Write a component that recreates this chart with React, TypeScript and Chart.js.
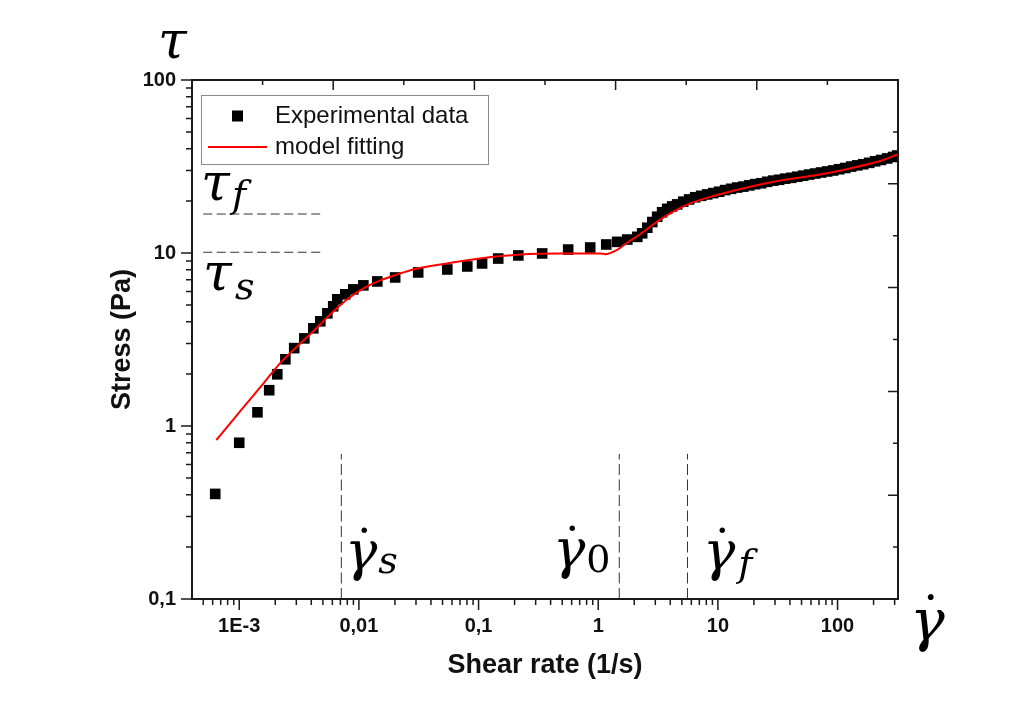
import { useEffect, useRef } from 'react';
import { Chart, registerables } from 'chart.js';

Chart.register(...registerables);

// ---------- data ----------
const expShearRate = [
  6.3e-4, 1.0e-3, 1.42e-3, 1.78e-3, 2.08e-3, 2.43e-3, 2.88e-3, 3.5e-3, 4.16e-3, 4.76e-3,
  5.45e-3, 6.1e-3, 6.6e-3, 7.7e-3, 8.98e-3, 0.0109, 0.01425, 0.0201, 0.0313, 0.0548,
  0.0805, 0.107, 0.146, 0.215, 0.34, 0.561, 0.857, 1.167, 1.44, 1.75,
  2.12, 2.33, 2.57, 2.83, 3.11, 3.42, 3.77, 4.15, 4.57, 5.13,
  5.75, 6.46, 7.25, 8.14, 9.14, 10.25, 11.5, 12.9, 14.5, 16.3,
  18.3, 20.5, 23.0, 25.8, 29.0, 32.5, 36.5, 41.0, 46.0, 51.6,
  57.9, 65.0, 72.9, 81.9, 91.9, 103, 116, 130, 146, 164,
  184, 206, 231, 260, 291, 315,
];
const expStress = [
  0.405, 0.8, 1.2, 1.61, 1.99, 2.43, 2.82, 3.21, 3.67, 4.03,
  4.48, 4.92, 5.4, 5.77, 6.16, 6.5, 6.85, 7.22, 7.72, 8.03,
  8.36, 8.7, 9.29, 9.68, 9.94, 10.47, 10.76, 11.2, 11.6, 11.96,
  12.4, 13.0, 14.0, 15.1, 16.2, 17.2, 18.0, 18.6, 19.1, 19.8,
  20.4, 21.0, 21.4, 21.8, 22.2, 22.6, 23.1, 23.5, 23.9, 24.2,
  24.6, 25.0, 25.3, 25.8, 26.2, 26.5, 26.9, 27.2, 27.6, 28.0,
  28.4, 28.8, 29.2, 29.6, 30.0, 30.5, 31.0, 31.6, 32.1, 32.6,
  33.2, 33.9, 34.5, 35.2, 35.9, 36.6,
];
const fitShearRate = [
  6.44e-4, 8.43e-4, 1.17e-3, 1.59e-3, 2.2e-3, 3.06e-3, 4.16e-3, 5.77e-3, 8.0e-3, 0.0109,
  0.0151, 0.0209, 0.0285, 0.0548, 0.103, 0.223, 0.482, 1.04, 1.14, 1.44,
  1.75, 2.24, 3.11, 4.23, 5.87, 9.87, 18.6, 35.1, 67.5, 127.4,
  240, 315,
];
const fitStress = [
  0.83, 1.04, 1.365, 1.76, 2.31, 2.89, 3.53, 4.42, 5.4, 6.24,
  6.94, 7.52, 8.03, 8.7, 9.3, 9.8, 9.94, 9.94, 9.84, 10.43,
  11.5, 12.83, 15.19, 17.35, 19.36, 21.65, 24.17, 26.42, 28.23, 30.82,
  34.45, 37.1,
];

const xTickValues = [1e-3, 1e-2, 1e-1, 1, 10, 100];
const xTickLabels = ['1E-3', '0,01', '0,1', '1', '10', '100'];
const yTickValues = [0.1, 1, 10, 100];
const yTickLabels = ['0,1', '1', '10', '100'];
const xDecades = [1e-4, 1e-3, 1e-2, 1e-1, 1, 10, 100];
const yDecades = [0.1, 1, 10];
const minorMantissas = [2, 3, 4, 5, 6, 7, 8, 9];
const xMin = 4.03e-4;
const xMax = 320;
const yMin = 0.1;
const yMax = 100;

// critical shear rates (γ̇s, γ̇0, γ̇f) and critical stresses (τf, τs)
const criticalRates = [0.00713, 1.5, 5.57];
const criticalRateTop = 0.69;
const criticalStresses = [16.8, 10.1];
const stressGuideX = [5e-4, 5e-3];

const seriesNames = ['Experimental data', 'model fitting'];

// ---------- helpers ----------
const xMinorTicks: number[] = [];
xDecades.forEach((d) => minorMantissas.forEach((m) => {
  const v = d * m;
  if (v > xMin && v < xMax) xMinorTicks.push(v);
}));
const yMinorTicks: number[] = [];
yDecades.forEach((d) => minorMantissas.forEach((m) => {
  const v = d * m;
  if (v > yMin && v < yMax) yMinorTicks.push(v);
}));

const SANS = '"Liberation Sans", Arial, sans-serif';
const SERIF = '"DejaVu Serif", "Liberation Serif", serif';

const framePlugin = {
  id: 'frameTicks',
  afterDatasetsDraw(chart: any) {
    const { ctx, chartArea: a, scales } = chart;
    const x = scales.x;
    const y = scales.y;
    ctx.save();
    ctx.strokeStyle = '#1a1a1a';
    ctx.lineWidth = 2;
    ctx.strokeRect(a.left, a.top, a.right - a.left, a.bottom - a.top);
    ctx.lineWidth = 1.5;
    ctx.beginPath();
    xTickValues.forEach((v) => {
      const p = x.getPixelForValue(v);
      ctx.moveTo(p, a.bottom); ctx.lineTo(p, a.bottom + 11);
    });
    xMinorTicks.forEach((v) => {
      const p = x.getPixelForValue(v);
      ctx.moveTo(p, a.bottom); ctx.lineTo(p, a.bottom + 6);
    });
    yTickValues.forEach((v) => {
      const p = y.getPixelForValue(v);
      ctx.moveTo(a.left, p); ctx.lineTo(a.left - 11, p);
    });
    yMinorTicks.forEach((v) => {
      const p = y.getPixelForValue(v);
      ctx.moveTo(a.left, p); ctx.lineTo(a.left - 6, p);
    });
    const w = a.right - a.left;
    const h = a.bottom - a.top;
    for (let i = 1; i < 10; i++) {
      const len = i % 2 === 0 ? 10 : 5;
      const px = a.left + (i * w) / 10;
      ctx.moveTo(px, a.top); ctx.lineTo(px, a.top + len);
      const py = a.top + (i * h) / 10;
      ctx.moveTo(a.right, py); ctx.lineTo(a.right - len, py);
    }
    ctx.stroke();
    ctx.restore();
  },
};

const legendPlugin = {
  id: 'boxLegend',
  afterDraw(chart: any) {
    const { ctx } = chart;
    ctx.save();
    ctx.fillStyle = '#ffffff';
    ctx.fillRect(201, 95, 287, 69);
    ctx.strokeStyle = '#8a8a8a';
    ctx.lineWidth = 1;
    ctx.strokeRect(201.5, 95.5, 287, 69);
    ctx.fillStyle = '#000';
    ctx.fillRect(232, 110.5, 11, 11);
    ctx.strokeStyle = '#ff0000';
    ctx.lineWidth = 2;
    ctx.beginPath();
    ctx.moveTo(208, 147); ctx.lineTo(267, 147);
    ctx.stroke();
    ctx.fillStyle = '#111';
    ctx.font = `24px ${SANS}`;
    ctx.textBaseline = 'middle';
    ctx.textAlign = 'left';
    ctx.fillText(seriesNames[0], 275, 116);
    ctx.fillText(seriesNames[1], 275, 147);
    ctx.restore();
  },
};

function gammaDot(ctx: any, x: number, baseline: number, size: number) {
  ctx.font = `italic ${size}px ${SERIF}`;
  ctx.textAlign = 'left';
  ctx.fillText('γ', x, baseline);
  const w = ctx.measureText('γ').width;
  ctx.font = `${Math.round(size * 0.9)}px ${SERIF}`;
  ctx.textAlign = 'center';
  ctx.fillText('˙', x + w * 0.6, baseline - size * 0.1);
  ctx.textAlign = 'left';
  return w;
}

const symbolPlugin = {
  id: 'symbols',
  afterDraw(chart: any) {
    const { ctx } = chart;
    ctx.save();
    ctx.fillStyle = '#000';
    ctx.textBaseline = 'alphabetic';
    const big = 52;
    const sub = 38;
    // τ (top, y axis symbol)
    ctx.font = `italic ${big}px ${SERIF}`;
    ctx.fillText('τ', 158, 58);
    // τf
    ctx.fillText('τ', 201, 200);
    ctx.font = `italic ${sub}px ${SERIF}`;
    ctx.fillText('f', 232, 207);
    // τs
    ctx.font = `italic ${big}px ${SERIF}`;
    ctx.fillText('τ', 203, 290);
    ctx.font = `italic ${sub}px ${SERIF}`;
    ctx.fillText('s', 235, 299);
    // γ̇s
    const g = 54;
    let w = gammaDot(ctx, 345, 570, g);
    ctx.font = `italic ${sub}px ${SERIF}`;
    ctx.fillText('s', 345 + w + 1, 573);
    // γ̇0
    w = gammaDot(ctx, 553, 568, g);
    ctx.font = `${sub}px ${SERIF}`;
    ctx.fillText('0', 553 + w + 1, 572);
    // γ̇f
    w = gammaDot(ctx, 703, 570, g);
    ctx.font = `italic ${sub}px ${SERIF}`;
    ctx.fillText('f', 703 + w + 3, 576);
    // γ̇ (x axis symbol)
    gammaDot(ctx, 910, 640, 58);
    ctx.restore();
  },
};

export default function App() {
  const ref = useRef<HTMLCanvasElement>(null);
  useEffect(() => {
    const canvas = ref.current;
    if (!canvas) return;
    const expPoints = expShearRate.map((x, i) => ({ x, y: expStress[i] }));
    const fitPoints = fitShearRate.map((x, i) => ({ x, y: fitStress[i] }));
    const guide = (pts: { x: number; y: number }[], dash: number[]) => ({
      type: 'line' as const,
      data: pts,
      showLine: true,
      pointRadius: 0,
      borderColor: '#333333',
      borderWidth: 1,
      borderDash: dash,
      fill: false,
      order: 3,
    });
    const guides = [
      ...criticalStresses.map((s) => guide(stressGuideX.map((x) => ({ x, y: s })), [9, 4.5])),
      ...criticalRates.map((r) => guide([{ x: r, y: yMin }, { x: r, y: criticalRateTop }], [11, 4.5])),
    ];
    const chart = new Chart(canvas, {
      type: 'scatter',
      data: {
        datasets: [
          {
            type: 'line',
            label: seriesNames[1],
            data: fitPoints,
            showLine: true,
            borderColor: '#ff0000',
            borderWidth: 2,
            pointRadius: 0,
            cubicInterpolationMode: 'monotone',
            fill: false,
            order: 0,
          },
          {
            label: seriesNames[0],
            data: expPoints,
            pointStyle: 'rect',
            pointRadius: 7.5,
            pointBorderWidth: 0,
            backgroundColor: '#000',
            borderColor: '#000',
            order: 1,
          },
          ...guides,
        ] as any,
      },
      options: {
        animation: false,
        responsive: true,
        maintainAspectRatio: false,
        devicePixelRatio: 1,
        layout: { padding: { left: 102, top: 80, right: 124, bottom: 28 } },
        plugins: { legend: { display: false }, tooltip: { enabled: false }, title: { display: false } },
        scales: {
          x: {
            type: 'logarithmic',
            min: xMin,
            max: xMax,
            afterBuildTicks: (scale: any) => { scale.ticks = xTickValues.map((v) => ({ value: v })); },
            afterFit: (scale: any) => { scale.height = 87; },
            ticks: {
              autoSkip: false,
              maxRotation: 0,
              minRotation: 0,
              padding: 4,
              color: '#111',
              font: { family: SANS, size: 20, weight: 'bold' },
              callback: (_v: any, i: number) => xTickLabels[i],
            },
            grid: { display: true, drawOnChartArea: false, drawTicks: true, tickLength: 11, color: 'rgba(0,0,0,0)' },
            border: { display: false },
            title: { display: true, text: 'Shear rate (1/s)', color: '#111', font: { family: SANS, size: 27, weight: 'bold' } },
          },
          y: {
            type: 'logarithmic',
            min: yMin,
            max: yMax,
            afterBuildTicks: (scale: any) => { scale.ticks = yTickValues.map((v) => ({ value: v })); },
            afterFit: (scale: any) => { scale.width = 90; },
            ticks: {
              autoSkip: false,
              padding: 5,
              color: '#111',
              font: { family: SANS, size: 20, weight: 'bold' },
              callback: (_v: any, i: number) => yTickLabels[i],
            },
            grid: { display: true, drawOnChartArea: false, drawTicks: true, tickLength: 11, color: 'rgba(0,0,0,0)' },
            border: { display: false },
            title: { display: true, text: 'Stress (Pa)', color: '#111', font: { family: SANS, size: 27, weight: 'bold' } },
          },
        },
      } as any,
      plugins: [framePlugin, legendPlugin, symbolPlugin],
    });
    return () => chart.destroy();
  }, []);
  return (
    <div style={{ position: 'absolute', left: 0, top: 0, width: 1022, height: 714, background: '#fff' }}>
      <canvas ref={ref} />
    </div>
  );
}
